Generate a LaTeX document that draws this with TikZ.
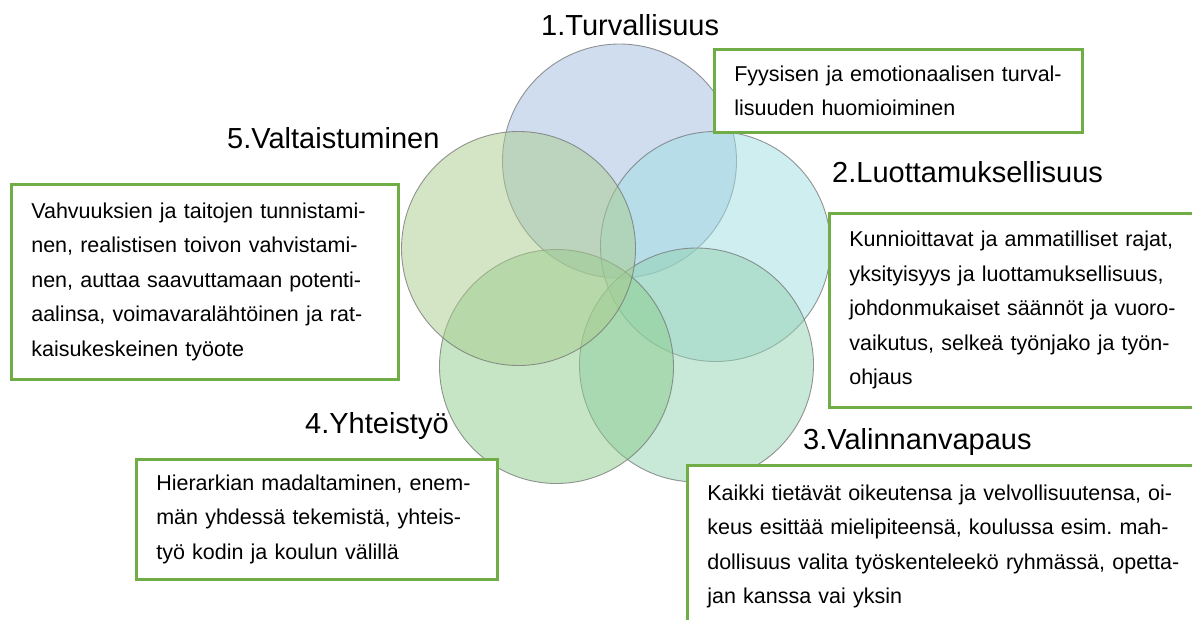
\documentclass[tikz,border=0pt]{standalone}
\usepackage{fontspec}
\setmainfont{Liberation Sans}
\definecolor{boxgreen}{RGB}{112,173,71}
\definecolor{cone}{RGB}{160,188,224}
\definecolor{ctwo}{RGB}{160,222,226}
\definecolor{cthree}{RGB}{146,210,178}
\definecolor{cfour}{RGB}{140,204,140}
\definecolor{cfive}{RGB}{170,204,142}
\begin{document}
\frenchspacing
\begin{tikzpicture}[x=1pt,y=-1pt,
  circ/.style={circle, draw=black!55, line width=0.9pt, fill opacity=0.5, draw opacity=0.75, inner sep=0},
  ttl/.style={anchor=base west, inner sep=0, font=\fontsize{29}{34}\selectfont},
  infobox/.style={draw=boxgreen, line width=2.6pt, fill=white, anchor=north west,
    align=left, inner ysep=0, inner xsep=20pt, font=\fontsize{21.5}{34.5}\selectfont}]
\useasboundingbox (0,0) rectangle (1192,619);
\fill[white] (0,0) rectangle (1192,619);

% circles
\node[circ, fill=cone,   minimum size=234] (c1) at (619.5,161) {};
\node[circ, fill=ctwo,   minimum size=230] (c2) at (715.5,246.5) {};
\node[circ, fill=cthree, minimum size=234] (c3) at (696.5,365) {};
\node[circ, fill=cfour,  minimum size=234] (c4) at (556.5,366.5) {};
\node[circ, fill=cfive,  minimum size=234] (c5) at (518.5,248.5) {};

% titles
\node[ttl] (t1) at (541,35) {1.Turvallisuus};
\node[ttl] (t5) at (227,148) {5.Valtaistuminen};
\node[ttl] (t2) at (832,182) {2.Luottamuksellisuus};
\node[ttl] (t4) at (305,433) {4.Yhteistyö};
\node[ttl] (t3) at (803,449) {3.Valinnanvapaus};

% boxes
\node[infobox, text width=328, minimum height=83] (b1) at (713,48) {%
\mbox{Fyysisen ja emotionaalisen turval-}\\
\mbox{lisuuden huomioiminen}};

\node[infobox, text width=347, minimum height=195] (b5) at (10,183) {%
\mbox{Vahvuuksien ja taitojen tunnistami-}\\
\mbox{nen, realistisen toivon vahvistami-}\\
\mbox{nen, auttaa saavuttamaan potenti-}\\
\mbox{aalinsa, voimavaralähtöinen ja rat-}\\
\mbox{kaisukeskeinen työote}};

\node[infobox, text width=360, minimum height=194] (b2) at (828,212) {%
\mbox{Kunnioittavat ja ammatilliset rajat,}\\
\mbox{yksityisyys ja luottamuksellisuus,}\\
\mbox{johdonmukaiset säännöt ja vuoro-}\\
\mbox{vaikutus, selkeä työnjako ja työn-}\\
\mbox{ohjaus}};

\node[infobox, text width=321, minimum height=120] (b4) at (135,458) {%
\mbox{Hierarkian madaltaminen, enem-}\\
\mbox{män yhdessä tekemistä, yhteis-}\\
\mbox{työ kodin ja koulun välillä}};

\node[infobox, text width=480, minimum height=162] (b3) at (686,464) {%
\mbox{Kaikki tietävät oikeutensa ja velvollisuutensa, oi-}\\
\mbox{keus esittää mielipiteensä, koulussa esim. mah-}\\
\mbox{dollisuus valita työskenteleekö ryhmässä, opetta-}\\
\mbox{jan kanssa vai yksin}};
\end{tikzpicture}
\end{document}
